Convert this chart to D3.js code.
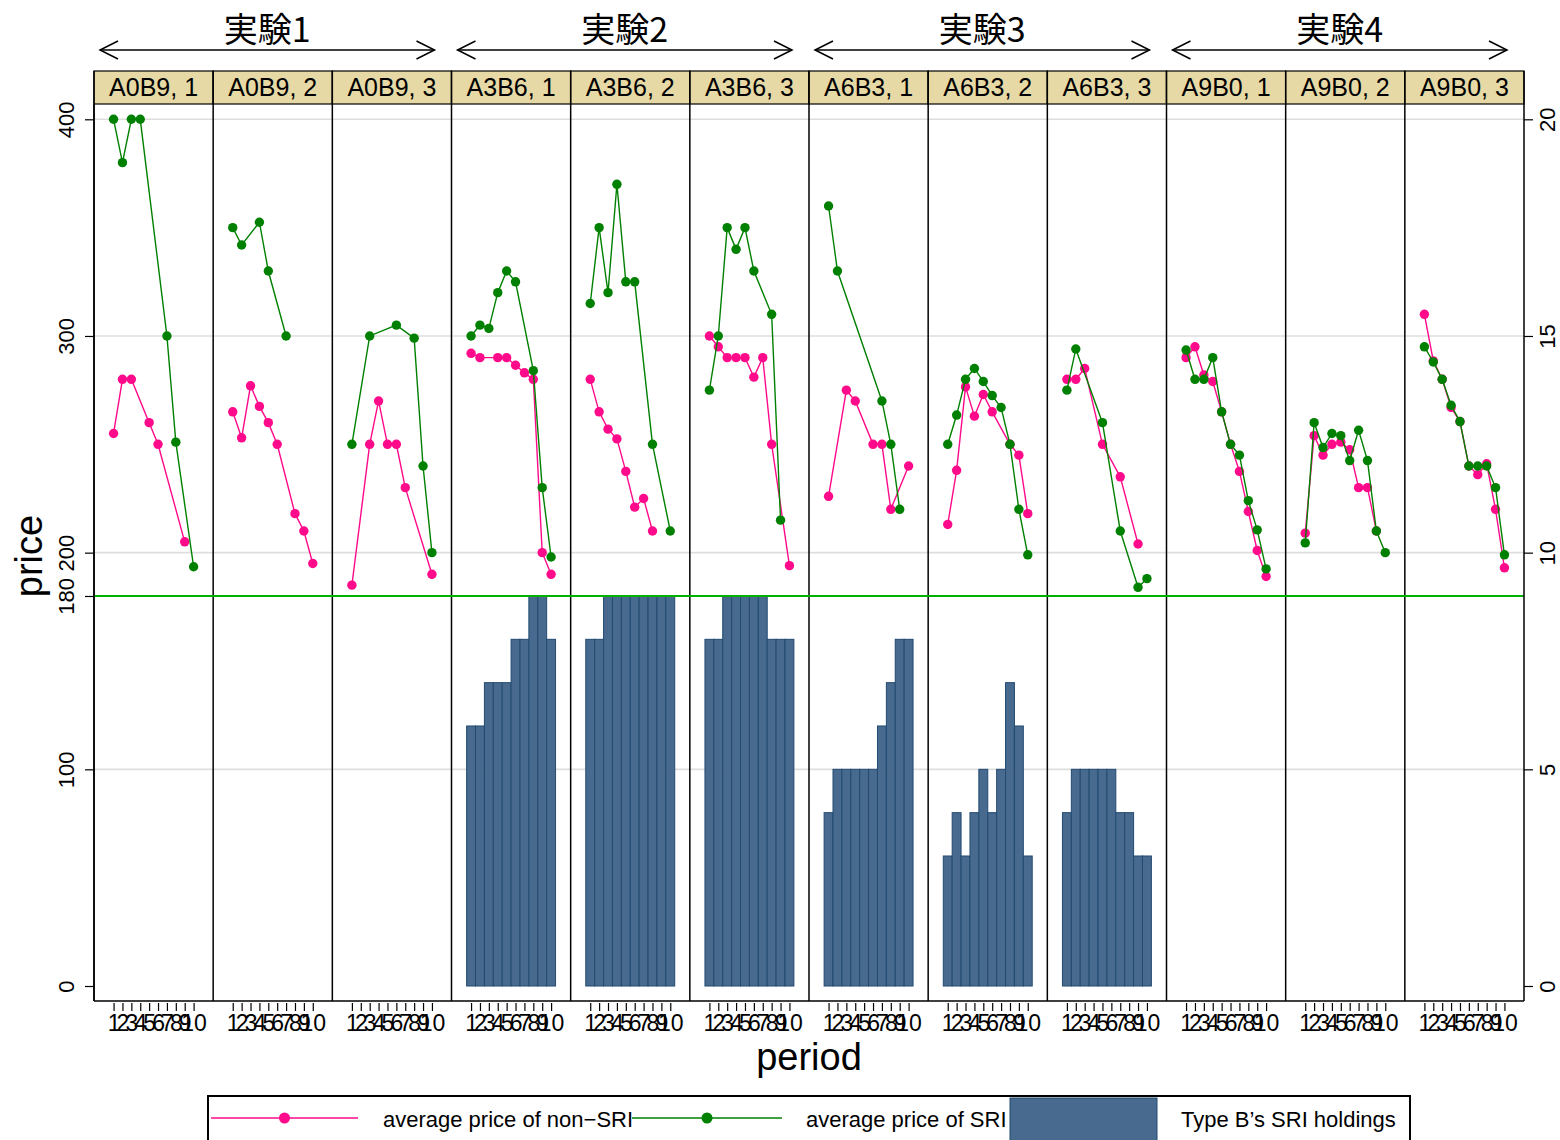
<!DOCTYPE html>
<html>
<head>
<meta charset="UTF-8">
<script src="https://d3js.org/d3.v7.min.js"></script>
<style>
  body { margin: 0; background: #fff; }
  text { font-family: "Liberation Sans", Arial, Helvetica, sans-serif; fill: #000; }
  .cjk { font-family: "Noto Sans CJK JP", "Noto Sans CJK SC", sans-serif; }
</style>
</head>
<body>
<svg id="canvas"></svg>
<script>

// experiments (3 sessions each) and panels
const groups = ["実験1", "実験2", "実験3", "実験4"];
const panels = ["A0B9, 1", "A0B9, 2", "A0B9, 3",
                "A3B6, 1", "A3B6, 2", "A3B6, 3",
                "A6B3, 1", "A6B3, 2", "A6B3, 3",
                "A9B0, 1", "A9B0, 2", "A9B0, 3"];
const periods = [1, 2, 3, 4, 5, 6, 7, 8, 9, 10];
const priceTicks = [0, 100, 180, 200, 300, 400];
const gridTicks = [100, 200, 300, 400];
const holdTicks = [0, 5, 10, 15, 20];

// average price of non-SRI, one row per panel (null = no trade that period)
const nonSRI = [
  [255, 280, 280, null, 260, 250, null, null, 205, null],
  [265, 253, 277, 267.5, 260, 250, null, 218, 210, 195],
  [185, null, 250, 270, 250, 250, 230, null, null, 190],
  [292, 290, null, 290, 290, 286.5, 283, 280, 200, 190],
  [280, 265, 257, 252.5, 237.5, 221, 225, 210, null, null],
  [300, 295, 290, 290, 290, 281, 290, 250, null, 194],
  [226, null, 275, 270, null, 250, 250, 220, null, 240],
  [213, 238, 276.5, 263, 273, 265, null, 250, 245, 218],
  [280, 280, 285, null, 250, null, 235, null, 204, null],
  [290, 295, 282, 279, 265, 250, 237.5, 219, 201, 189],
  [209, 254, 245, 250, 251, 247.5, 230, 230, 210, null],
  [310, 288.5, 280, 267, 260.5, 240, 236, 241, 220, 193]
];

// average price of SRI
const SRI = [
  [400, 380, 400, 400, null, null, 300, 251, null, 193.5],
  [350, 342, null, 352.5, 330, null, 300, null, null, null],
  [250, null, 300, null, null, 305, null, 299, 240, 200],
  [300, 305, 303.5, 320, 330, 325, null, 284, 230, 198],
  [315, 350, 320, 370, 325, 325, null, 250, null, 210],
  [275, 300, 350, 340, 350, 330, null, 310, 215, null],
  [360, 330, null, null, null, null, 270, 250, 220, null],
  [250, 263.5, 280, 285, 279, 272.5, 267, 250, 220, 199],
  [275, 294, null, null, 260, null, 210, null, 184, 188],
  [293.5, 280, 280, 290, 265, 250, 245, 224, 210.5, 192.5],
  [204.5, 260, 248.5, 255, 254, 242.5, 256.5, 242.5, 210, 200],
  [295, 288, 280, 268, 260.5, 240, 240, 240, 230, 199]
];

// Type B's SRI holdings (right axis)
const holdings = [
  null, null, null,
  [6, 6, 7, 7, 7, 8, 8, 9, 9, 8],
  [8, 8, 9, 9, 9, 9, 9, 9, 9, 9],
  [8, 8, 9, 9, 9, 9, 9, 8, 8, 8],
  [4, 5, 5, 5, 5, 5, 6, 7, 8, 8],
  [3, 4, 3, 4, 5, 4, 5, 7, 6, 3],
  [4, 5, 5, 5, 5, 5, 4, 4, 3, 3],
  null, null, null
];

const legendLabels = ["average price of non\u2212SRI", "average price of SRI", "Type B\u2019s SRI holdings"];

width = 1560;
height = 1140;
plot = {left: 94, right: 1524, top: 104, bottom: 1001, stripTop: 71};

pink = "#ff0a8a";
green = "#008000";
barFill = "#476a8e";
barLine = "#234a72";

svg = d3.select("#canvas")
  .attr("width", width)
  .attr("height", height);

svg.append("rect").attr("width", width).attr("height", height).attr("fill", "#fff");

x = d3.scaleBand().domain(panels).range([plot.left, plot.right]);
px = d3.scaleLinear().domain([-1.2, 12.2]).range([0, x.bandwidth()]);
y = d3.scaleLinear().domain([0, 400]).range([986, 119.3]);
y2 = d3.scaleLinear().domain([0, 20]).range([986, 119.3]);

// grid lines
svg.append("g").selectAll("line").data(gridTicks).enter()
  .append("line")
    .attr("x1", plot.left).attr("x2", plot.right)
    .attr("y1", d => y(d)).attr("y2", d => y(d))
    .attr("stroke", "#dedede").attr("stroke-width", 1.6);

// one group per panel
panelG = svg.selectAll(".panel").data(panels).enter()
  .append("g")
    .attr("class", "panel")
    .attr("transform", d => "translate(" + x(d) + ",0)");

// bars
panelG.each(function(name, i) {
  if (!holdings[i]) return;
  d3.select(this).selectAll("rect.bar")
    .data(periods.map((p, j) => ({p: p, v: holdings[i][j]}))).enter()
    .append("rect")
      .attr("class", "bar")
      .attr("x", d => px(d.p - 0.5))
      .attr("width", px(1) - px(0))
      .attr("y", d => y2(d.v))
      .attr("height", d => y2(0) - y2(d.v))
      .attr("fill", barFill)
      .attr("stroke", barLine)
      .attr("stroke-width", 1);
});

// 180 reference line
svg.append("line")
  .attr("x1", plot.left).attr("x2", plot.right)
  .attr("y1", y(180)).attr("y2", y(180))
  .attr("stroke", "#00b000").attr("stroke-width", 2);

line = d3.line()
  .x(d => px(d.p))
  .y(d => y(d.v));

function drawSeries(g, values, color) {
  pts = periods.map((p, j) => ({p: p, v: values[j]})).filter(d => d.v != null);
  g.append("path")
    .attr("d", line(pts))
    .attr("fill", "none")
    .attr("stroke", color)
    .attr("stroke-width", 1.4);
  g.selectAll(null).data(pts).enter()
    .append("circle")
      .attr("cx", d => px(d.p))
      .attr("cy", d => y(d.v))
      .attr("r", 4.7)
      .attr("fill", color);
}

panelG.each(function(name, i) {
  g = d3.select(this);
  drawSeries(g, nonSRI[i], pink);
  drawSeries(g, SRI[i], green);
});

// strips
panelG.append("rect")
  .attr("x", 0).attr("y", plot.stripTop)
  .attr("width", x.bandwidth()).attr("height", plot.top - plot.stripTop)
  .attr("fill", "#e6d9a6")
  .attr("stroke", "#000").attr("stroke-width", 1.2);

panelG.append("text")
  .attr("x", x.bandwidth() / 2)
  .attr("y", 96)
  .attr("text-anchor", "middle")
  .attr("font-size", 25)
  .text(d => d);

// panel borders
panelG.append("line")
  .attr("x1", 0).attr("x2", 0)
  .attr("y1", plot.stripTop).attr("y2", plot.bottom)
  .attr("stroke", "#000").attr("stroke-width", 1.5);

svg.append("line")
  .attr("x1", plot.right).attr("x2", plot.right)
  .attr("y1", plot.stripTop).attr("y2", plot.bottom)
  .attr("stroke", "#000").attr("stroke-width", 1.5);
svg.append("line")
  .attr("x1", plot.left).attr("x2", plot.right)
  .attr("y1", plot.bottom).attr("y2", plot.bottom)
  .attr("stroke", "#000").attr("stroke-width", 1.5);

// bottom axis for each panel (labels overlap, as in the original)
panelG.each(function() {
  ax = d3.select(this).append("g")
    .attr("transform", "translate(0," + (plot.bottom + 2) + ")")
    .call(d3.axisBottom(px).tickValues(periods).tickSize(8).tickSizeOuter(0));
  ax.select(".domain").remove();
  ax.selectAll("line").attr("stroke", "#000").attr("stroke-width", 1.2);
  ax.selectAll("text")
    .attr("font-size", 23)
    .attr("font-family", "Liberation Sans, Arial, sans-serif")
    .attr("fill", "#000")
    .attr("y", 12);
});

// left axis (price)
leftAx = svg.append("g")
  .attr("transform", "translate(" + plot.left + ",0)")
  .call(d3.axisLeft(y).tickValues(priceTicks).tickSize(9));
leftAx.select(".domain").attr("d", "M0," + plot.top + "V" + plot.bottom).attr("stroke", "#000").attr("stroke-width", 1.5);
leftAx.selectAll("line").attr("stroke", "#000").attr("stroke-width", 1.2);
leftAx.selectAll("text")
  .attr("x", null).attr("dy", null)
  .attr("transform", "translate(-20,0) rotate(-90)")
  .attr("text-anchor", "middle")
  .attr("font-size", 22)
  .attr("font-family", "Liberation Sans, Arial, sans-serif")
  .attr("fill", "#000");

// right axis (holdings)
rightAx = svg.append("g")
  .attr("transform", "translate(" + plot.right + ",0)")
  .call(d3.axisRight(y2).tickValues(holdTicks).tickSize(9));
rightAx.select(".domain").remove();
rightAx.selectAll("line").attr("stroke", "#000").attr("stroke-width", 1.2);
rightAx.selectAll("text")
  .attr("x", null).attr("dy", null)
  .attr("transform", "translate(31,0) rotate(-90)")
  .attr("text-anchor", "middle")
  .attr("font-size", 22)
  .attr("font-family", "Liberation Sans, Arial, sans-serif")
  .attr("fill", "#000");

// axis titles
svg.append("text")
  .attr("transform", "translate(42,556) rotate(-90)")
  .attr("text-anchor", "middle")
  .attr("font-size", 38)
  .text("price");

svg.append("text")
  .attr("x", (plot.left + plot.right) / 2)
  .attr("y", 1070)
  .attr("text-anchor", "middle")
  .attr("font-size", 38)
  .text("period");

// experiment headers with double arrows
groups.forEach((name, k) => {
  a = x(panels[3 * k]) + 6;
  b = x(panels[3 * k + 2]) + x.bandwidth() - 17;
  g = svg.append("g");
  g.append("line")
    .attr("x1", a).attr("x2", b).attr("y1", 50).attr("y2", 50)
    .attr("stroke", "#000").attr("stroke-width", 1.5);
  g.append("path")
    .attr("d", "M" + (a + 18) + ",41L" + a + ",50L" + (a + 18) + ",59"
             + "M" + (b - 18) + ",41L" + b + ",50L" + (b - 18) + ",59")
    .attr("fill", "none").attr("stroke", "#000").attr("stroke-width", 1.5);
  g.append("text")
    .attr("class", "cjk")
    .attr("x", (a + b) / 2)
    .attr("y", 42)
    .attr("text-anchor", "middle")
    .attr("font-size", 34)
    .text(name);
});

// legend
legend = svg.append("g");
legend.append("rect")
  .attr("x", 208).attr("y", 1096).attr("width", 1202).attr("height", 60)
  .attr("fill", "#fff").attr("stroke", "#000").attr("stroke-width", 2);

legendLines = [{x1: 211, x2: 358, c: pink, tx: 383}, {x1: 632, x2: 782, c: green, tx: 806}];
legendLines.forEach((d, i) => {
  legend.append("line")
    .attr("x1", d.x1).attr("x2", d.x2).attr("y1", 1118).attr("y2", 1118)
    .attr("stroke", d.c).attr("stroke-width", 1.6);
  legend.append("circle")
    .attr("cx", (d.x1 + d.x2) / 2).attr("cy", 1118).attr("r", 5.5)
    .attr("fill", d.c);
  legend.append("text")
    .attr("x", d.tx).attr("y", 1127)
    .attr("font-size", 22)
    .text(legendLabels[i]);
});
legend.append("rect")
  .attr("x", 1010).attr("y", 1098).attr("width", 147).attr("height", 44)
  .attr("fill", barFill).attr("stroke", barLine).attr("stroke-width", 1);
legend.append("text")
  .attr("x", 1181).attr("y", 1127)
  .attr("font-size", 22)
  .text(legendLabels[2]);

</script>
</body>
</html>
